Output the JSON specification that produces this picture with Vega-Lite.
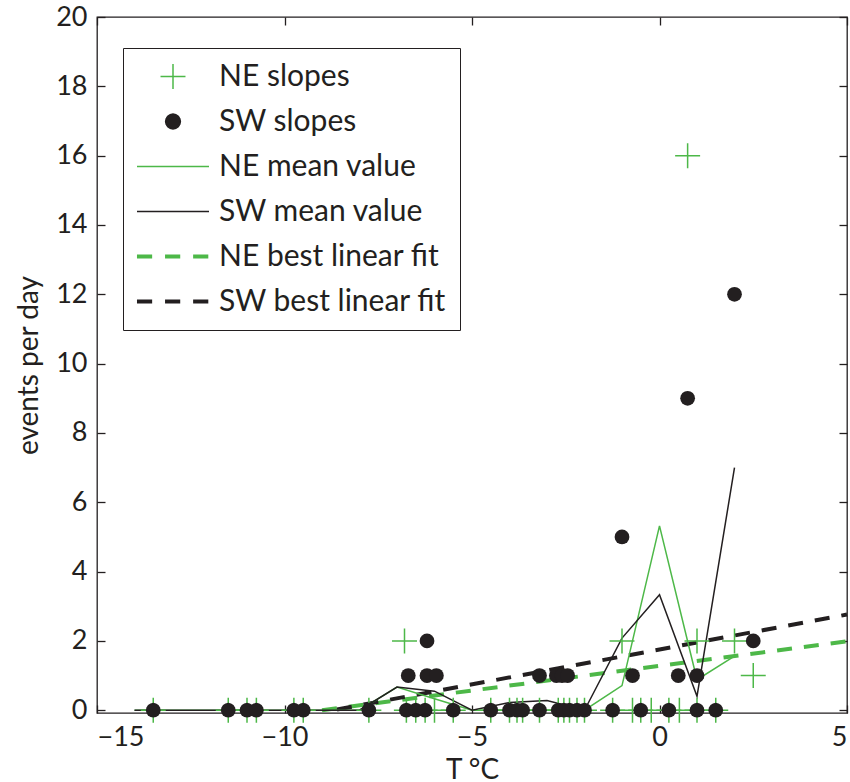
{
  "$schema": "https://vega.github.io/schema/vega-lite/v6.json",
  "autosize": {"type": "none"},
  "width": 750,
  "height": 696,
  "padding": {"left": 97, "top": 17, "right": 3, "bottom": 69},
  "background": "white",
  "config": {
    "font": "Lato",
    "view": {"stroke": "#231f20", "strokeWidth": 1.3},
    "axis": {
      "domain": false,
      "grid": false,
      "tickColor": "#231f20",
      "tickWidth": 1.3,
      "labelColor": "#231f20",
      "titleColor": "#231f20",
      "labelFont": "Lato",
      "titleFont": "Lato",
      "labelFontSize": 27,
      "titleFontSize": 28,
      "titleFontWeight": "normal"
    },
    "legend": {
      "orient": "none",
      "legendX": 26,
      "legendY": 31,
      "padding": 13,
      "strokeColor": "#231f20",
      "fillColor": "white",
      "labelFont": "Lato",
      "labelFontSize": 30,
      "labelColor": "#231f20",
      "labelLimit": 400,
      "symbolSize": 5184,
      "symbolStrokeWidth": 1.5,
      "symbolOpacity": 1,
      "clipHeight": 31,
      "rowPadding": 14,
      "labelOffset": 9
    }
  },
  "datasets": {
    "pts": [
      {"series": "SW slopes", "T": -13.5, "E": 0},
      {"series": "SW slopes", "T": -11.5, "E": 0},
      {"series": "SW slopes", "T": -11.0, "E": 0},
      {"series": "SW slopes", "T": -10.75, "E": 0},
      {"series": "SW slopes", "T": -9.75, "E": 0},
      {"series": "SW slopes", "T": -9.5, "E": 0},
      {"series": "SW slopes", "T": -7.75, "E": 0},
      {"series": "SW slopes", "T": -6.75, "E": 0},
      {"series": "SW slopes", "T": -6.5, "E": 0},
      {"series": "SW slopes", "T": -6.25, "E": 0},
      {"series": "SW slopes", "T": -5.5, "E": 0},
      {"series": "SW slopes", "T": -4.5, "E": 0},
      {"series": "SW slopes", "T": -4.0, "E": 0},
      {"series": "SW slopes", "T": -3.8, "E": 0},
      {"series": "SW slopes", "T": -3.65, "E": 0},
      {"series": "SW slopes", "T": -3.2, "E": 0},
      {"series": "SW slopes", "T": -2.7, "E": 0},
      {"series": "SW slopes", "T": -2.55, "E": 0},
      {"series": "SW slopes", "T": -2.4, "E": 0},
      {"series": "SW slopes", "T": -2.2, "E": 0},
      {"series": "SW slopes", "T": -2.0, "E": 0},
      {"series": "SW slopes", "T": -1.25, "E": 0},
      {"series": "SW slopes", "T": -0.5, "E": 0},
      {"series": "SW slopes", "T": 0.25, "E": 0},
      {"series": "SW slopes", "T": 1.0, "E": 0},
      {"series": "SW slopes", "T": 1.5, "E": 0},
      {"series": "SW slopes", "T": -6.7, "E": 1},
      {"series": "SW slopes", "T": -6.2, "E": 1},
      {"series": "SW slopes", "T": -5.95, "E": 1},
      {"series": "SW slopes", "T": -3.2, "E": 1},
      {"series": "SW slopes", "T": -2.75, "E": 1},
      {"series": "SW slopes", "T": -2.6, "E": 1},
      {"series": "SW slopes", "T": -2.45, "E": 1},
      {"series": "SW slopes", "T": -0.72, "E": 1},
      {"series": "SW slopes", "T": 0.5, "E": 1},
      {"series": "SW slopes", "T": 1.0, "E": 1},
      {"series": "SW slopes", "T": -6.2, "E": 2},
      {"series": "SW slopes", "T": 2.5, "E": 2},
      {"series": "SW slopes", "T": -1.0, "E": 5},
      {"series": "SW slopes", "T": 0.75, "E": 9},
      {"series": "SW slopes", "T": 2.0, "E": 12},
      {"series": "NE slopes", "T": -13.5, "E": 0},
      {"series": "NE slopes", "T": -11.5, "E": 0},
      {"series": "NE slopes", "T": -11.0, "E": 0},
      {"series": "NE slopes", "T": -10.75, "E": 0},
      {"series": "NE slopes", "T": -9.75, "E": 0},
      {"series": "NE slopes", "T": -9.5, "E": 0},
      {"series": "NE slopes", "T": -7.75, "E": 0},
      {"series": "NE slopes", "T": -6.75, "E": 0},
      {"series": "NE slopes", "T": -6.5, "E": 0},
      {"series": "NE slopes", "T": -6.25, "E": 0},
      {"series": "NE slopes", "T": -6.0, "E": 0},
      {"series": "NE slopes", "T": -5.5, "E": 0},
      {"series": "NE slopes", "T": -4.5, "E": 0},
      {"series": "NE slopes", "T": -4.0, "E": 0},
      {"series": "NE slopes", "T": -3.8, "E": 0},
      {"series": "NE slopes", "T": -3.65, "E": 0},
      {"series": "NE slopes", "T": -3.2, "E": 0},
      {"series": "NE slopes", "T": -2.7, "E": 0},
      {"series": "NE slopes", "T": -2.55, "E": 0},
      {"series": "NE slopes", "T": -2.4, "E": 0},
      {"series": "NE slopes", "T": -2.2, "E": 0},
      {"series": "NE slopes", "T": -2.0, "E": 0},
      {"series": "NE slopes", "T": -1.25, "E": 0},
      {"series": "NE slopes", "T": -0.72, "E": 0},
      {"series": "NE slopes", "T": -0.5, "E": 0},
      {"series": "NE slopes", "T": -0.22, "E": 0},
      {"series": "NE slopes", "T": 0.25, "E": 0},
      {"series": "NE slopes", "T": 0.53, "E": 0},
      {"series": "NE slopes", "T": 1.0, "E": 0},
      {"series": "NE slopes", "T": 1.5, "E": 0},
      {"series": "NE slopes", "T": 2.5, "E": 1},
      {"series": "NE slopes", "T": -6.8, "E": 2},
      {"series": "NE slopes", "T": -1.0, "E": 2},
      {"series": "NE slopes", "T": 1.0, "E": 2},
      {"series": "NE slopes", "T": 2.0, "E": 2},
      {"series": "NE slopes", "T": 0.75, "E": 16}
    ],
    "mean": [
      {"series": "NE mean value", "T": -14, "E": 0},
      {"series": "NE mean value", "T": -13, "E": 0},
      {"series": "NE mean value", "T": -12, "E": 0},
      {"series": "NE mean value", "T": -11, "E": 0},
      {"series": "NE mean value", "T": -10, "E": 0},
      {"series": "NE mean value", "T": -9, "E": 0},
      {"series": "NE mean value", "T": -8, "E": 0},
      {"series": "NE mean value", "T": -7, "E": 0.67},
      {"series": "NE mean value", "T": -6, "E": 0.33},
      {"series": "NE mean value", "T": -5, "E": 0},
      {"series": "NE mean value", "T": -4, "E": 0},
      {"series": "NE mean value", "T": -3, "E": 0},
      {"series": "NE mean value", "T": -2, "E": 0},
      {"series": "NE mean value", "T": -1, "E": 0.71},
      {"series": "NE mean value", "T": 0, "E": 5.32},
      {"series": "NE mean value", "T": 1, "E": 0.88},
      {"series": "NE mean value", "T": 2, "E": 1.56},
      {"series": "SW mean value", "T": -14, "E": 0},
      {"series": "SW mean value", "T": -13, "E": 0},
      {"series": "SW mean value", "T": -12, "E": 0},
      {"series": "SW mean value", "T": -11, "E": 0},
      {"series": "SW mean value", "T": -10, "E": 0},
      {"series": "SW mean value", "T": -9, "E": 0},
      {"series": "SW mean value", "T": -8, "E": 0},
      {"series": "SW mean value", "T": -7, "E": 0.67},
      {"series": "SW mean value", "T": -6, "E": 0.55},
      {"series": "SW mean value", "T": -5, "E": 0},
      {"series": "SW mean value", "T": -4, "E": 0.22},
      {"series": "SW mean value", "T": -3, "E": 0.28},
      {"series": "SW mean value", "T": -2, "E": 0},
      {"series": "SW mean value", "T": -1, "E": 2.08},
      {"series": "SW mean value", "T": 0, "E": 3.33},
      {"series": "SW mean value", "T": 1, "E": 0.4},
      {"series": "SW mean value", "T": 2, "E": 7.0}
    ],
    "fit": [
      {"series": "NE best linear fit", "T": -9.0, "E": 0.0},
      {"series": "NE best linear fit", "T": 5.0, "E": 1.99},
      {"series": "SW best linear fit", "T": -8.6, "E": 0.02},
      {"series": "SW best linear fit", "T": 5.0, "E": 2.76}
    ]
  },
  "resolve": {"axis": {"x": "independent", "y": "independent"}},
  "layer": [
    {
      "data": {"name": "fit"},
      "mark": {"type": "line", "strokeWidth": 4, "strokeDash": [15, 12]},
      "encoding": {
        "x": {"field": "T", "type": "quantitative", "scale": {"domain": [-15, 5], "nice": false, "zero": false},
              "axis": {"orient": "bottom", "values": [-15, -10, -5, 0, 5], "tickSize": -8, "labelPadding": 19, "title": "T °C", "titlePadding": 6}},
        "y": {"field": "E", "type": "quantitative", "scale": {"domain": [-0.08, 20], "nice": false, "zero": false},
              "axis": {"orient": "left", "values": [0, 2, 4, 6, 8, 10, 12, 14, 16, 18, 20], "tickSize": -8, "labelPadding": 18, "title": "events per day", "titlePadding": 12}},
        "stroke": {"field": "series", "type": "nominal",
          "scale": {"domain": ["NE slopes", "SW slopes", "NE mean value", "SW mean value", "NE best linear fit", "SW best linear fit"],
                    "range": ["#4db848", "#231f20", "#4db848", "#231f20", "#4db848", "#231f20"]},
          "legend": {"title": null}
        }
      }
    },
    {
      "data": {"name": "mean"},
      "mark": {"type": "line", "strokeWidth": 1.5},
      "encoding": {
        "x": {"field": "T", "type": "quantitative",
              "axis": {"orient": "top", "values": [-15, -10, -5, 0, 5], "tickSize": -8, "labels": false, "title": null}},
        "y": {"field": "E", "type": "quantitative",
              "axis": {"orient": "right", "values": [0, 2, 4, 6, 8, 10, 12, 14, 16, 18, 20], "tickSize": -8, "labels": false, "title": null}},
        "stroke": {"field": "series", "type": "nominal",
          "scale": {"domain": ["NE slopes", "SW slopes", "NE mean value", "SW mean value", "NE best linear fit", "SW best linear fit"],
                    "range": ["#4db848", "#231f20", "#4db848", "#231f20", "#4db848", "#231f20"]},
          "legend": {"title": null}
        }
      }
    },
    {
      "data": {"name": "pts"},
      "transform": [{"filter": "datum.series === 'NE slopes'"}],
      "mark": {"type": "point", "filled": false, "size": 5184, "strokeWidth": 1.5, "opacity": 1, "clip": false},
      "encoding": {
        "x": {"field": "T", "type": "quantitative", "axis": null},
        "y": {"field": "E", "type": "quantitative", "axis": null},
        "stroke": {"field": "series", "type": "nominal",
          "scale": {"domain": ["NE slopes", "SW slopes", "NE mean value", "SW mean value", "NE best linear fit", "SW best linear fit"],
                    "range": ["#4db848", "#231f20", "#4db848", "#231f20", "#4db848", "#231f20"]},
          "legend": {"title": null}
        },
        "shape": {"field": "series", "type": "nominal",
          "scale": {"domain": ["NE slopes", "SW slopes", "NE mean value", "SW mean value", "NE best linear fit", "SW best linear fit"],
                    "range": [
                      "M-0.347,0L0.347,0M0,-0.347L0,0.347",
                      "M0.205,0L0.1894,0.0785L0.145,0.145L0.0785,0.1894L0,0.205L-0.0785,0.1894L-0.145,0.145L-0.1894,0.0785L-0.205,0L-0.1894,-0.0785L-0.145,-0.145L-0.0785,-0.1894L0,-0.205L0.0785,-0.1894L0.145,-0.145L0.1894,-0.0785Z",
                      "stroke",
                      "stroke",
                      "M-0.98,-0.035L-0.6,-0.035L-0.6,0.035L-0.98,0.035ZM-0.2,-0.035L0.18,-0.035L0.18,0.035L-0.2,0.035ZM0.58,-0.035L0.96,-0.035L0.96,0.035L0.58,0.035Z",
                      "M-0.98,-0.035L-0.6,-0.035L-0.6,0.035L-0.98,0.035ZM-0.2,-0.035L0.18,-0.035L0.18,0.035L-0.2,0.035ZM0.58,-0.035L0.96,-0.035L0.96,0.035L0.58,0.035Z"
                    ]},
          "legend": {"title": null}
        }
      }
    },
    {
      "data": {"name": "pts"},
      "transform": [{"filter": "datum.series === 'SW slopes'"}],
      "mark": {"type": "point", "filled": true, "size": 5184, "opacity": 1, "clip": false},
      "encoding": {
        "x": {"field": "T", "type": "quantitative", "axis": null},
        "y": {"field": "E", "type": "quantitative", "axis": null},
        "fill": {"field": "series", "type": "nominal",
          "scale": {"domain": ["NE slopes", "SW slopes", "NE mean value", "SW mean value", "NE best linear fit", "SW best linear fit"],
                    "range": ["#4db848", "#231f20", "#4db848", "#231f20", "#4db848", "#231f20"]},
          "legend": {"title": null}
        },
        "shape": {"field": "series", "type": "nominal",
          "scale": {"domain": ["NE slopes", "SW slopes", "NE mean value", "SW mean value", "NE best linear fit", "SW best linear fit"],
                    "range": [
                      "M-0.347,0L0.347,0M0,-0.347L0,0.347",
                      "M0.205,0L0.1894,0.0785L0.145,0.145L0.0785,0.1894L0,0.205L-0.0785,0.1894L-0.145,0.145L-0.1894,0.0785L-0.205,0L-0.1894,-0.0785L-0.145,-0.145L-0.0785,-0.1894L0,-0.205L0.0785,-0.1894L0.145,-0.145L0.1894,-0.0785Z",
                      "stroke",
                      "stroke",
                      "M-0.98,-0.035L-0.6,-0.035L-0.6,0.035L-0.98,0.035ZM-0.2,-0.035L0.18,-0.035L0.18,0.035L-0.2,0.035ZM0.58,-0.035L0.96,-0.035L0.96,0.035L0.58,0.035Z",
                      "M-0.98,-0.035L-0.6,-0.035L-0.6,0.035L-0.98,0.035ZM-0.2,-0.035L0.18,-0.035L0.18,0.035L-0.2,0.035ZM0.58,-0.035L0.96,-0.035L0.96,0.035L0.58,0.035Z"
                    ]},
          "legend": {"title": null}
        }
      }
    }
  ]
}
